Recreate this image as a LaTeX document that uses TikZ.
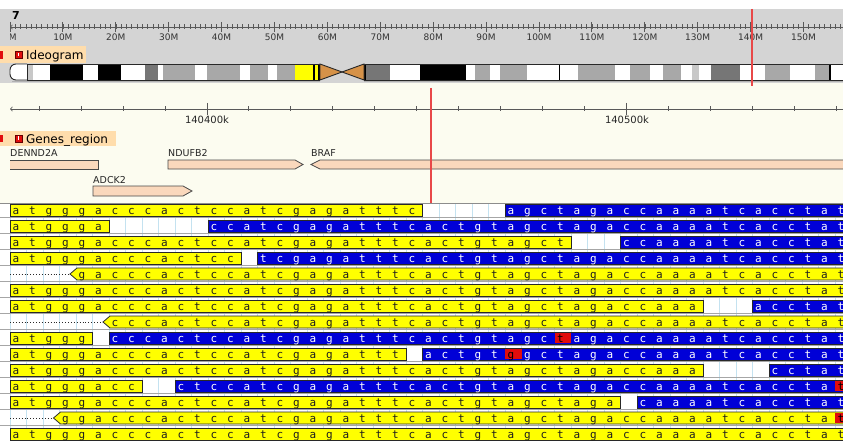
\documentclass[tikz,border=0pt]{standalone}
\usepackage{fontspec}
\setmainfont{DejaVu Sans}
\newfontfamily\seqfont{DejaVu Sans Mono}
\usepackage{tikz}

\definecolor{panelgrey}{RGB}{212,212,212}
\definecolor{panelivory}{RGB}{252,252,240}
\definecolor{tagpeach}{RGB}{255,221,172}
\definecolor{genepeach}{RGB}{250,216,188}
\definecolor{bandpale}{RGB}{200,200,200}
\definecolor{bandlight}{RGB}{168,168,168}
\definecolor{banddark}{RGB}{118,118,118}
\definecolor{cenorange}{RGB}{214,146,72}
\definecolor{readyellow}{RGB}{255,255,0}
\definecolor{readblue}{RGB}{0,0,215}
\definecolor{misred}{RGB}{225,12,12}
\definecolor{gridblue}{RGB}{196,226,240}
\definecolor{cursor}{RGB}{232,72,72}
\definecolor{outline}{RGB}{40,40,40}
\definecolor{seqdark}{RGB}{30,30,30}

% reference bases of the window
\newcommand{\refbases}{a,t,g,g,g,a,c,c,c,a,c,t,c,c,a,t,c,g,a,g,a,t,t,t,c,a,c,t,g,t,a,g,c,t,a,g,a,c,c,a,a,a,a,t,c,a,c,c,t,a,t}

% forward read: row, first col, last col, colour
\newcommand{\rdfwd}[4]{%
  \draw[readbox, fill=#4] ({10+16.5*#2},{204+16*(#1-1)}) rectangle ({10+16.5*(#3+1)},{216+16*(#1-1)});}

% reverse read and its mate line: row, first col, last col, colour
\newcommand{\rdrev}[4]{%
  \coordinate (mate#1a) at (10,{210+16*(#1-1)});
  \coordinate (mate#1b) at ({10+16.5*#2-6},{210+16*(#1-1)});
  \draw[mateline] (mate#1a) -- (mate#1b);
  \draw[readbox, fill=#4] (mate#1b) -- ({10+16.5*#2+1},{204+16*(#1-1)})
    -- ({10+16.5*(#3+1)},{204+16*(#1-1)}) -- ({10+16.5*(#3+1)},{216+16*(#1-1)})
    -- ({10+16.5*#2+1},{216+16*(#1-1)}) -- cycle;}

% bases of a read: row, first col, last col, colour
\newcommand{\rdbases}[4]{%
  \foreach \nuc [count=\k from 0] in \refbases {%
    \ifnum\k<#2 \else\ifnum\k>#3 \else
      \node[seqletter, text=#4] (b#1-\k) at ({16+16.5*\k},{214.5+16*(#1-1)}) {\nuc};
    \fi\fi}}

% mismatch: row, col, base
\newcommand{\rdmis}[3]{%
  \fill[misred] ({10+16.5*#2},{205+16*(#1-1)}) rectangle ({10+16.5*(#2+1)},{215+16*(#1-1)});
  \node[seqletter, text=black] (x#1-#2) at ({16+16.5*#2},{214.5+16*(#1-1)}) {#3};}

\begin{document}
\begin{tikzpicture}[x=1pt, y=-1pt,
    readbox/.style={draw=outline, line width=0.8pt},
    seqletter/.style={font=\seqfont\fontsize{11}{11}\selectfont, anchor=base, inner sep=0pt},
    mateline/.style={draw=outline, dotted, line width=0.9pt},
    ruler/.style={draw=black!65, line width=0.8pt},
    mblab/.style={font=\fontsize{9}{9}\selectfont, text=black!80, anchor=base},
    kblab/.style={font=\fontsize{10}{10}\selectfont, text=black!85, anchor=base},
    genelab/.style={font=\fontsize{9.5}{9.5}\selectfont, text=black!85, anchor=base west, inner sep=0pt},
    genebox/.style={draw=outline!85, fill=genepeach, line width=0.8pt},
    tagtext/.style={font=\fontsize{12}{12}\selectfont, anchor=base west, inner sep=0pt},
    qicon/.style={fill=misred, draw=red!40!black, minimum size=7pt, inner sep=0pt},
    cursorline/.style={draw=cursor, line width=2pt},
    bandline/.style={draw=outline, line width=0.9pt}]

  \useasboundingbox (0,0) rectangle (843,441);
  \clip (0,0) rectangle (843,441);

  % panels
  \fill[white] (0,0) rectangle (843,9);
  \fill[panelgrey] (0,9) rectangle (843,83);
  \fill[panelivory] (0,83) rectangle (843,203);
  \fill[white] (0,203) rectangle (843,441);

  % chromosome ruler
  \node[font=\bfseries\fontsize{11}{11}\selectfont, anchor=base west, inner sep=0pt] (chrname) at (12,20) {7};
  \coordinate (mbL) at (10,27);
  \coordinate (mbR) at (843,27);
  \draw[ruler, <-] (mbL) -- (mbR);
  \foreach \k in {1,...,159}
    \draw[ruler, line width=0.6pt] ({10+5.29*\k},24.5) -- ({10+5.29*\k},29.5);
  \foreach \k in {0,...,15}
    \draw[ruler, line width=1pt] ({10+52.9*\k},22) -- ({10+52.9*\k},32);
  \begin{scope}
    \clip (10,30) rectangle (40,45);
    \node[mblab] (mb0) at (10,41) {0M};
  \end{scope}
  \foreach \k in {1,...,15} {
    \pgfmathtruncatemacro{\mb}{10*\k}
    \node[mblab] (mb\k) at ({10+52.9*\k},41) {\mb M};
  }

  % ideogram
  \fill[tagpeach] (0,46) rectangle (86,63);
  \fill[misred] (0,51) rectangle (2.5,59);
  \node[qicon] (ideoicon) at (18.5,55) {};
  \fill[white] (17.7,52.8) rectangle (19.3,56.2);
  \node[tagtext] (ideotag) at (26,60) {Ideogram};

  \foreach \a/\b/\c in {27/33/bandpale, 33/50/white, 50/83/black, 83/98/white, 98/121/black,
      121/145/white, 145/158/banddark, 158/163/white, 163/195/bandlight, 195/207/white,
      207/240/bandlight, 240/250/white, 250/268/bandlight, 268/277/white, 277/295/bandlight,
      295/313/readyellow, 313/315/black, 315/318/readyellow, 318/320/black,
      364/365.5/black, 365.5/390/banddark, 390/420/white, 420/466/black, 466/475/white,
      475/490/bandlight, 490/500/white, 500/527/bandlight, 527/558.5/white, 558.5/560/black,
      560/578/white, 578/615/bandlight, 615/630/white, 630/650/bandlight, 650/663/white,
      663/681/bandlight, 681/692/white, 692/699/bandpale, 699/711/white, 711/740/banddark,
      740/765/white, 765/790/bandlight, 790/815/white, 815/829/bandlight, 829/830.5/black,
      830.5/843/white}
    \fill[\c] (\a,64) rectangle (\b,80);
  \draw[bandline, fill=white, rounded corners=6pt] (27,64) -- (10,64) -- (10,80) -- (27,80);
  \draw[bandline] (27,64) -- (27,80);
  \draw[bandline] (27,64) -- (320,64) (27,80) -- (320,80) (364,64) -- (843,64) (364,80) -- (843,80);
  \draw[bandline, fill=cenorange] (320,64) -- (342,72) -- (320,80) -- cycle;
  \draw[bandline, fill=cenorange] (364,64) -- (342,72) -- (364,80) -- cycle;
  \draw[black!30, line width=1.2pt] (12,81.6) -- (320,81.6) (364,81.6) -- (843,81.6);

  \coordinate (curA) at (752,9);
  \coordinate (curB) at (752,86);
  \draw[cursorline] (curA) -- (curB);

  % region ruler
  \coordinate (kbL) at (10,109);
  \coordinate (kbR) at (843,109);
  \draw[ruler, <-] (kbL) -- (kbR);
  \foreach \k in {-4,...,15}
    \draw[ruler, line width=1pt] ({207+41.94*\k},106.5) -- ({207+41.94*\k},111.5);
  \draw[ruler] (207,103) -- (207,115) (626.4,103) -- (626.4,115);
  \node[kblab] (kb1) at (207,124) {140400k};
  \node[kblab] (kb2) at (627,124) {140500k};

  % genes
  \fill[tagpeach] (0,131) rectangle (116,146);
  \fill[misred] (0,135) rectangle (2.5,142);
  \node[qicon] (geneicon) at (18.5,138.5) {};
  \fill[white] (17.7,136.3) rectangle (19.3,139.7);
  \node[tagtext] (genetag) at (26,143) {Genes\_region};

  \node[genelab] (dennd) at (10,157) {DENND2A};
  \fill[genepeach] (10,160) rectangle (98,169);
  \draw[genebox, fill=none] (10,160) -- (98,160) -- (98,169) -- (10,169);
  \node[genelab] (ndufb) at (168,157) {NDUFB2};
  \draw[genebox] (168,160) -- (295,160) -- (303,164.5) -- (295,169) -- (168,169) -- cycle;
  \node[genelab] (braf) at (311,157) {BRAF};
  \draw[genebox] (850,160) -- (320,160) -- (311,164.5) -- (320,169) -- (850,169);
  \node[genelab] (adck) at (93,183) {ADCK2};
  \draw[genebox] (93,186) -- (183,186) -- (192,191) -- (183,196) -- (93,196) -- cycle;

  \coordinate (cur2A) at (431,88);
  \coordinate (cur2B) at (431,203);
  \draw[cursorline] (cur2A) -- (cur2B);

  % reads
  \draw[black!45, line width=0.8pt] (0,203.5) -- (843,203.5);
  \foreach \k in {0,...,51}
    \draw[gridblue, line width=0.6pt] ({10+16.5*\k},204) -- ({10+16.5*\k},441);
  \foreach \r in {1,...,15}
    \draw[black!35, line width=1.4pt] (0,{217.6+16*(\r-1)}) -- (843,{217.6+16*(\r-1)});

  \rdfwd{1}{0}{24}{readyellow}   \rdbases{1}{0}{24}{seqdark}
  \rdfwd{1}{30}{50}{readblue}    \rdbases{1}{30}{50}{white}

  \rdfwd{2}{0}{5}{readyellow}    \rdbases{2}{0}{5}{seqdark}
  \rdfwd{2}{12}{50}{readblue}    \rdbases{2}{12}{50}{white}

  \rdfwd{3}{0}{33}{readyellow}   \rdbases{3}{0}{33}{seqdark}
  \rdfwd{3}{37}{50}{readblue}    \rdbases{3}{37}{50}{white}

  \rdfwd{4}{0}{13}{readyellow}   \rdbases{4}{0}{13}{seqdark}
  \rdfwd{4}{15}{50}{readblue}    \rdbases{4}{15}{50}{white}

  \rdrev{5}{4}{50}{readyellow}   \rdbases{5}{4}{50}{seqdark}

  \rdfwd{6}{0}{50}{readyellow}   \rdbases{6}{0}{50}{seqdark}

  \rdfwd{7}{0}{41}{readyellow}   \rdbases{7}{0}{41}{seqdark}
  \rdfwd{7}{45}{50}{readblue}    \rdbases{7}{45}{50}{white}

  \rdrev{8}{6}{50}{readyellow}   \rdbases{8}{6}{50}{seqdark}

  \rdfwd{9}{0}{4}{readyellow}    \rdbases{9}{0}{4}{seqdark}
  \rdfwd{9}{6}{50}{readblue}     \rdbases{9}{6}{32}{white}
  \rdmis{9}{33}{t}               \rdbases{9}{34}{50}{white}

  \rdfwd{10}{0}{23}{readyellow}  \rdbases{10}{0}{23}{seqdark}
  \rdfwd{10}{25}{50}{readblue}   \rdbases{10}{25}{29}{white}
  \rdmis{10}{30}{g}              \rdbases{10}{31}{50}{white}

  \rdfwd{11}{0}{41}{readyellow}  \rdbases{11}{0}{41}{seqdark}
  \rdfwd{11}{46}{50}{readblue}   \rdbases{11}{46}{50}{white}

  \rdfwd{12}{0}{7}{readyellow}   \rdbases{12}{0}{7}{seqdark}
  \rdfwd{12}{10}{50}{readblue}   \rdbases{12}{10}{49}{white}
  \rdmis{12}{50}{t}

  \rdfwd{13}{0}{36}{readyellow}  \rdbases{13}{0}{36}{seqdark}
  \rdfwd{13}{38}{50}{readblue}   \rdbases{13}{38}{50}{white}

  \rdrev{14}{3}{50}{readyellow}  \rdbases{14}{3}{49}{seqdark}
  \rdmis{14}{50}{t}

  \rdfwd{15}{0}{50}{readyellow}  \rdbases{15}{0}{50}{seqdark}
\end{tikzpicture}
\end{document}
